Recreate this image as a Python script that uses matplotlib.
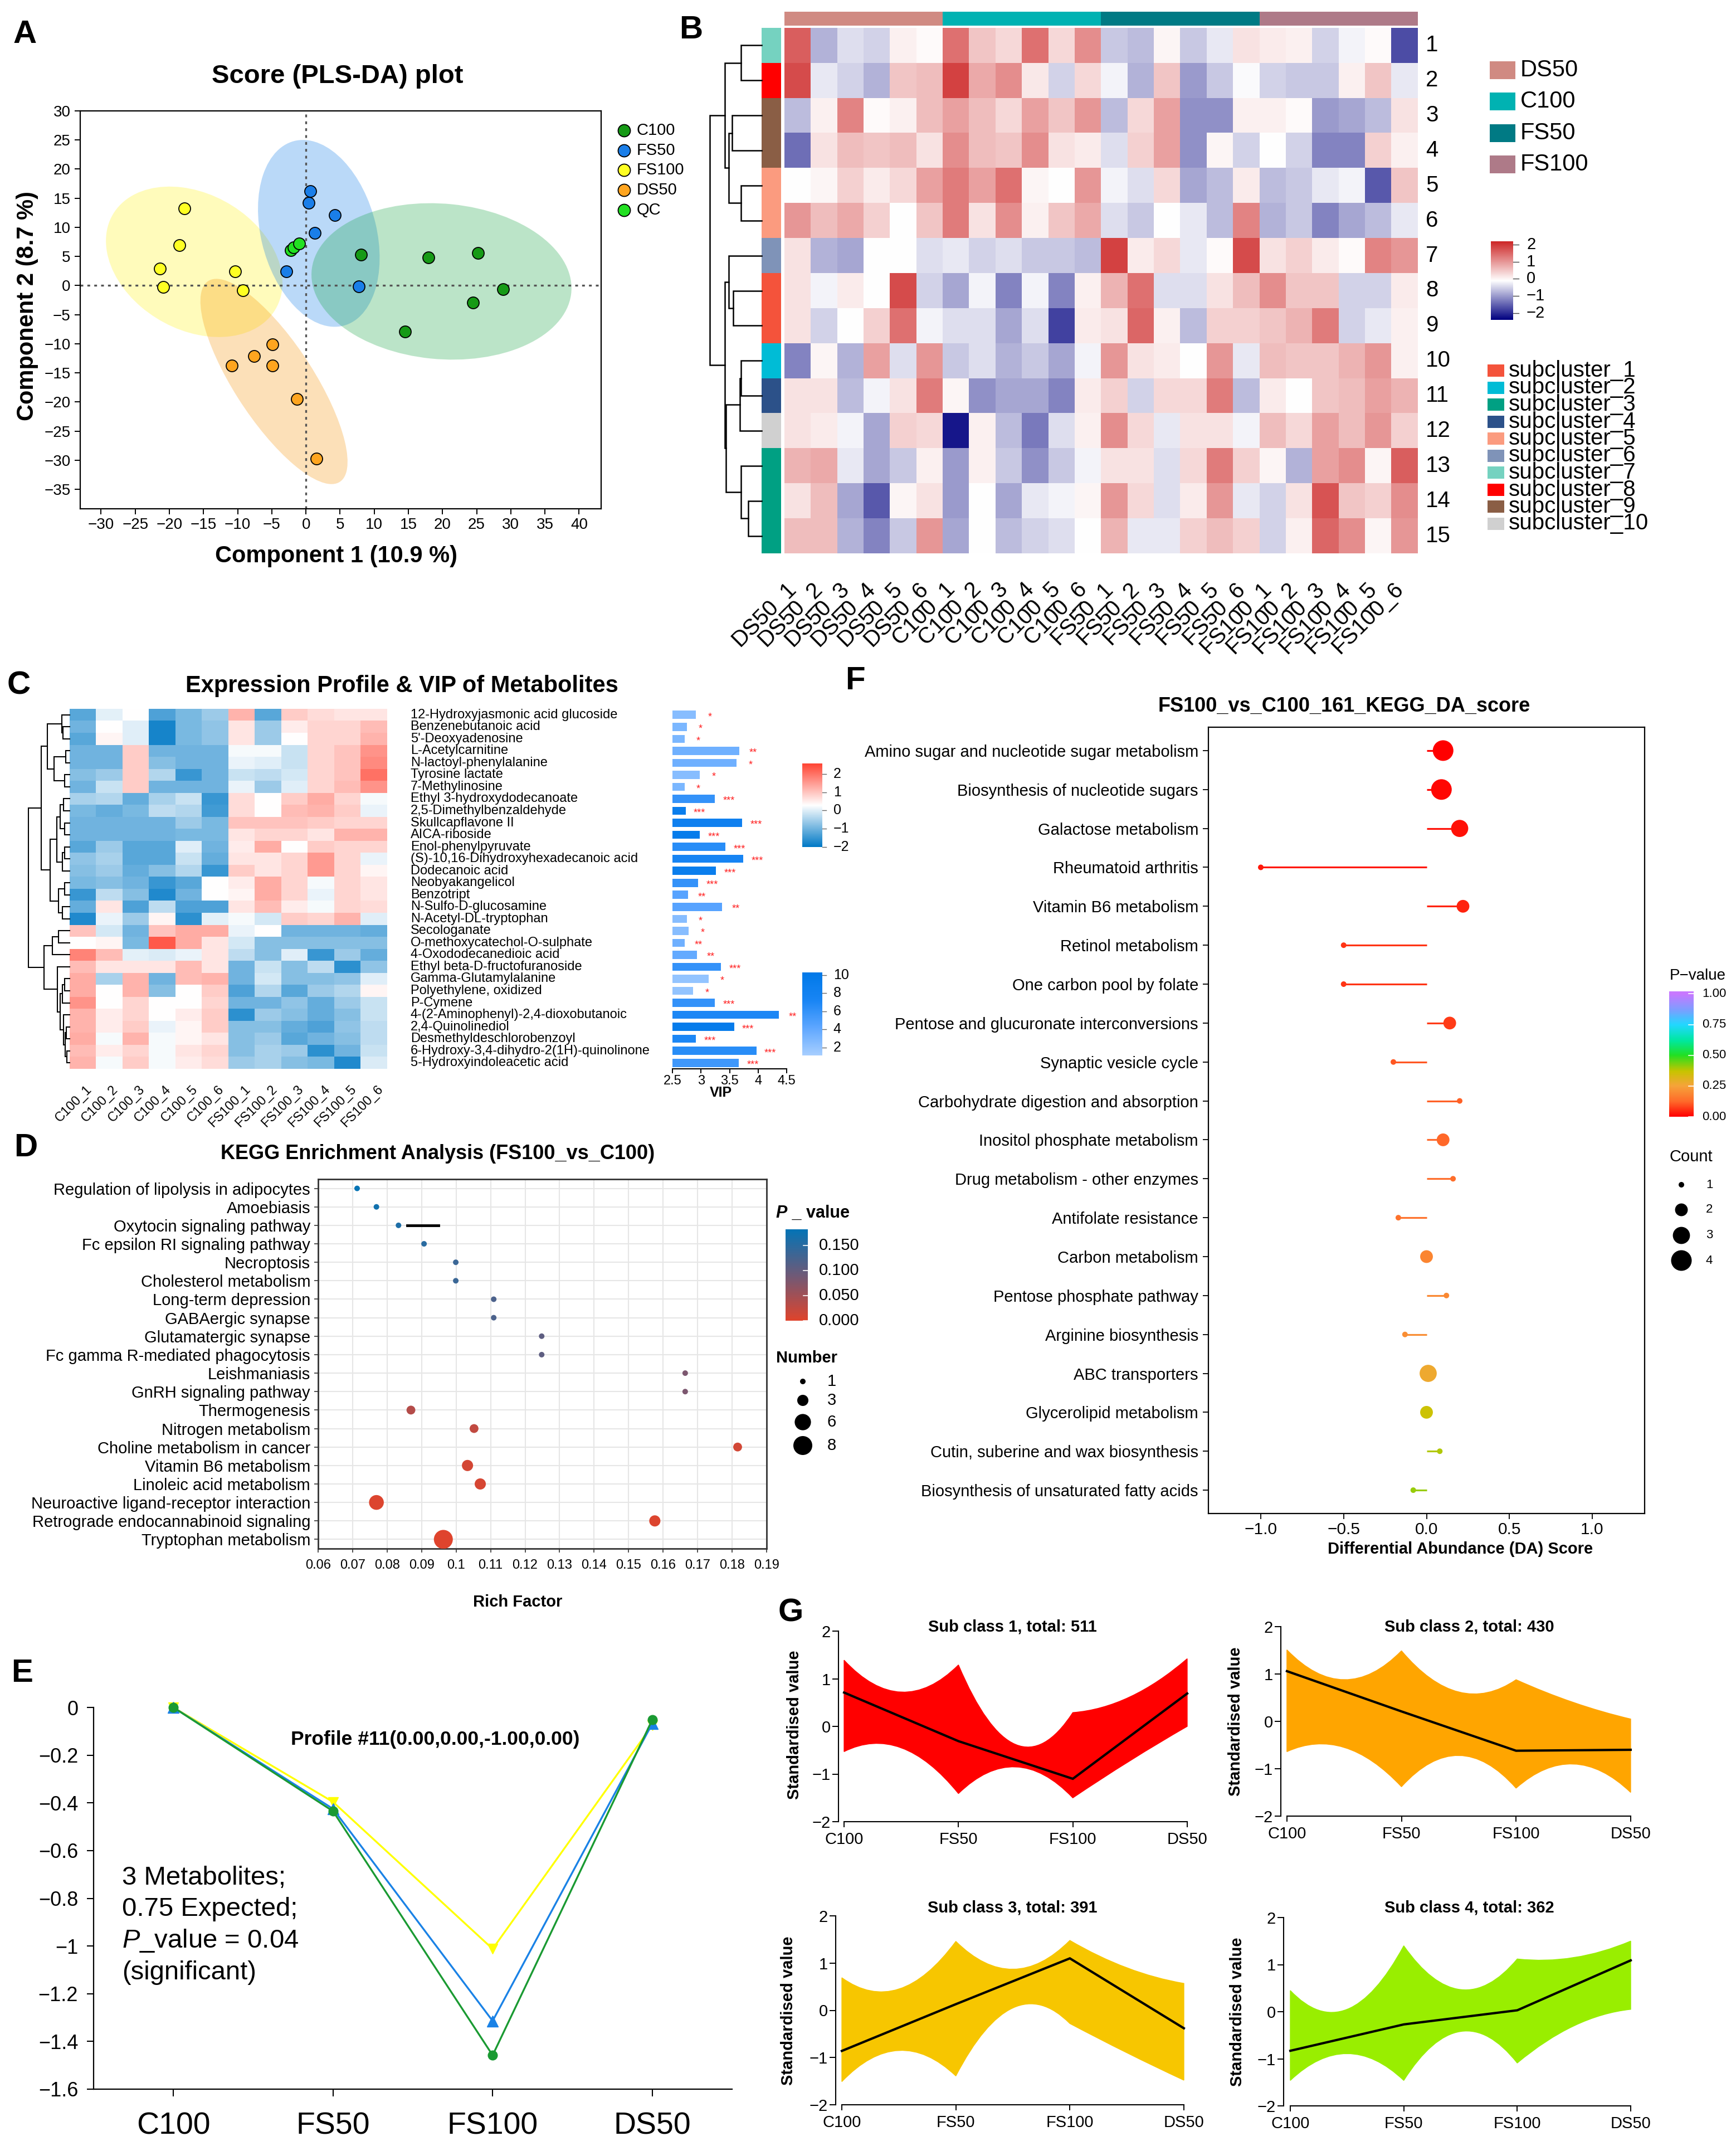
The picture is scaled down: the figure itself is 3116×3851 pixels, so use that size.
import numpy as np
import matplotlib
matplotlib.use('Agg')
import matplotlib.pyplot as plt
from matplotlib.colors import LinearSegmentedColormap, Normalize
from matplotlib.patches import Ellipse, Rectangle, PathPatch
from matplotlib.path import Path
from matplotlib.ticker import FuncFormatter

plt.rcParams['font.family'] = ['Liberation Sans', 'DejaVu Sans']
plt.rcParams['mathtext.fontset'] = 'custom'
plt.rcParams['mathtext.rm'] = 'Liberation Sans'
plt.rcParams['mathtext.it'] = 'Liberation Sans:italic'
plt.rcParams['mathtext.bf'] = 'Liberation Sans:bold'

# ============================ DATA ============================
# ---- A: PLS-DA scores ----
A_groups = ['C100', 'FS50', 'FS100', 'DS50', 'QC']
A_x = {'C100': [8.1, 17.9, 25.2, 28.9, 24.5, 14.5],
       'FS50': [0.6, 0.4, 4.2, 1.3, -2.9, 7.7],
       'FS100': [-17.8, -18.5, -21.4, -20.9, -10.4, -9.2],
       'DS50': [-4.9, -7.6, -10.9, -4.9, -1.3, 1.5],
       'QC': [-2.2, -1.8, -1.0]}
A_y = {'C100': [5.3, 4.8, 5.6, -0.6, -2.9, -7.9],
       'FS50': [16.2, 14.2, 12.1, 9.0, 2.4, -0.1],
       'FS100': [13.3, 6.9, 2.9, -0.2, 2.4, -0.8],
       'DS50': [-10.1, -12.1, -13.7, -13.7, -19.5, -29.7],
       'QC': [6.1, 6.6, 7.2]}

# ---- B: clustered heatmap ----
B_groups = ['DS50', 'C100', 'FS50', 'FS100']
B_samples = [g + '_' + str(i) for g in B_groups for i in range(1, 7)]
B_vals = [
 [1.6,-0.8,-0.4,-0.5,0.05,-0.05,1.4,0.5,0.3,1.4,0.3,1.1,-0.6,-0.7,0.0,-0.6,-0.3,0.2,0.1,0.05,-0.5,-0.2,-0.05,-1.7],
 [1.8,-0.3,-0.5,-0.8,0.5,0.6,1.9,0.8,1.1,0.15,-0.5,0.3,-0.2,-0.8,0.5,-1.0,-0.6,-0.15,-0.5,-0.6,-0.6,0.05,0.5,-0.3],
 [-0.7,0.05,1.2,-0.05,0.05,0.6,0.9,0.6,0.3,0.9,0.5,1.0,-0.7,0.3,0.9,-1.1,-1.1,0.05,0.05,-0.05,-1.0,-0.9,-0.7,0.2],
 [-1.4,0.2,0.6,0.5,0.6,0.2,1.1,0.6,0.5,1.1,0.2,0.1,-0.4,0.4,0.9,-1.1,0.0,-0.5,-0.1,-0.5,-1.2,-1.2,0.4,0.05],
 [-0.1,0.0,0.4,0.1,0.3,0.9,1.3,0.9,1.4,0.0,-0.1,1.0,-0.2,-0.4,0.3,-0.9,-0.7,0.1,-0.7,-0.6,-0.3,-0.2,-1.6,0.5],
 [1.0,0.6,0.8,0.4,-0.1,0.5,1.3,0.2,1.1,0.05,0.5,0.8,-0.4,-0.6,-0.1,-0.3,-0.7,1.2,-0.8,-0.6,-1.2,-0.9,-0.7,-0.3],
 [0.2,-0.8,-0.9,-0.1,-0.1,-0.4,-0.3,-0.5,-0.4,-0.6,-0.6,-0.7,1.9,0.1,0.3,-0.3,-0.05,1.8,0.2,0.4,0.1,-0.05,1.2,1.0],
 [0.2,-0.2,0.1,-0.1,1.8,-0.5,-0.9,-0.2,-1.2,-0.2,-1.2,0.05,0.7,1.4,-0.4,-0.4,0.2,0.6,1.1,0.5,0.5,-0.5,-0.5,0.1],
 [0.2,-0.5,-0.1,0.4,1.4,-0.2,-0.4,-0.4,-0.9,-0.4,-1.8,0.1,0.2,1.5,0.05,-0.7,0.4,0.4,0.5,0.7,1.3,-0.5,-0.3,0.05],
 [-1.2,0.0,-0.8,0.9,-0.4,1.0,-0.6,-0.4,-0.8,-0.6,-0.9,-0.2,1.0,0.2,0.1,-0.1,1.0,-0.3,0.6,0.5,0.5,0.7,1.0,0.05],
 [0.2,0.2,-0.7,-0.2,0.2,1.3,0.0,-1.1,-0.9,-0.9,-1.2,0.1,0.4,-0.5,0.3,0.3,1.3,-0.7,0.1,-0.1,0.5,0.6,0.9,0.7],
 [0.2,0.1,-0.2,-0.9,0.4,0.3,-2.2,0.05,-0.7,-1.3,-0.4,0.05,1.1,0.3,-0.3,0.2,0.2,-0.2,0.6,0.3,0.9,0.6,1.0,0.4],
 [0.7,0.8,-0.3,-0.9,-0.6,0.05,-1.0,0.05,-0.6,-1.1,-0.6,-0.2,0.2,0.2,-0.4,0.3,1.3,0.4,0.0,-0.8,0.9,1.1,0.0,1.6],
 [0.2,0.6,-0.9,-1.6,0.0,0.2,-1.0,-0.1,-0.9,-0.3,-0.2,0.0,1.0,0.3,-0.4,0.1,1.0,-0.3,-0.5,0.2,1.7,0.5,0.4,1.1],
 [0.6,0.6,-0.8,-1.2,-0.6,1.0,-0.9,-0.1,-0.7,-0.5,-0.4,-0.1,0.7,-0.3,-0.3,0.4,0.6,0.4,-0.5,0.05,1.5,1.1,0.0,1.0]]
B_row_cluster = [7, 8, 9, 9, 5, 5, 6, 1, 1, 2, 4, 10, 3, 3, 3]
B_cluster_colors = ['#f4533b', '#00bcd6', '#00a083', '#2c5189', '#fb9b7f',
                    '#7f93b8', '#75d2c0', '#ff0000', '#8a5e45', '#d0d0d0']
B_group_colors = ['#d08a82', '#00b2b2', '#007a84', '#ae7a88']
# dendrogram (left, right, height) - leaves are row indices
B_tree = (((0, 1, 30), ((2, 3, 43), (4, 5, 30), 48), 54),
          ((6, (7, 8, 42), 48), (((9, 10, 30), 11, 32), (12, (13, 14, 20), 30), 52), 54), 76)

# ---- C: expression profile + VIP ----
C_samples = ['C100_' + str(i) for i in range(1, 7)] + ['FS100_' + str(i) for i in range(1, 7)]
C_names = ['12-Hydroxyjasmonic acid glucoside', 'Benzenebutanoic acid', "5'-Deoxyadenosine",
           'L-Acetylcarnitine', 'N-lactoyl-phenylalanine', 'Tyrosine lactate', '7-Methylinosine',
           'Ethyl 3-hydroxydodecanoate', '2,5-Dimethylbenzaldehyde', 'Skullcapflavone II',
           'AICA-riboside', 'Enol-phenylpyruvate', '(S)-10,16-Dihydroxyhexadecanoic acid',
           'Dodecanoic acid', 'Neobyakangelicol', 'Benzotript', 'N-Sulfo-D-glucosamine',
           'N-Acetyl-DL-tryptophan', 'Secologanate', 'O-methoxycatechol-O-sulphate',
           '4-Oxododecanedioic acid', 'Ethyl beta-D-fructofuranoside', 'Gamma-Glutamylalanine',
           'Polyethylene, oxidized', 'P-Cymene', '4-(2-Aminophenyl)-2,4-dioxobutanoic',
           '2,4-Quinolinediol', 'Desmethyldeschlorobenzoyl',
           '6-Hydroxy-3,4-dihydro-2(1H)-quinolinone', '5-Hydroxyindoleacetic acid']
C_vals = [
 [-1.2,0.05,0.3,-1.3,-0.9,-0.6,1.2,-1.2,0.9,0.7,0.6,0.6],
 [-1.0,0.3,0.0,-1.8,-0.9,-0.7,0.6,-0.6,0.5,0.8,0.8,1.1],
 [-1.2,0.4,0.0,-1.8,-0.9,-0.7,0.6,-0.6,0.3,0.8,0.8,1.2],
 [-1.0,-1.0,0.9,-1.0,-1.0,-1.0,0.2,0.2,-0.2,0.8,1.0,1.6],
 [-1.0,-1.0,0.9,-0.8,-1.0,-1.0,0.1,0.0,-0.2,0.8,1.0,1.7],
 [-0.8,-0.6,0.9,-0.4,-1.5,-1.0,-0.2,-0.3,-0.1,0.8,1.0,2.0],
 [-1.0,-0.2,0.9,-1.0,-1.0,-1.0,0.1,-0.6,0.0,0.8,1.1,1.6],
 [-0.5,-0.4,-1.1,-0.5,-0.2,-1.5,0.7,0.3,0.9,1.3,0.8,0.2],
 [-0.9,-1.1,-0.9,-0.3,-0.4,-1.4,0.7,0.3,1.1,1.2,0.9,0.1],
 [-1.0,-1.0,-1.0,-1.0,-0.6,-0.9,1.0,1.0,1.0,0.9,0.8,0.8],
 [-1.0,-1.0,-1.0,-1.0,-0.9,-0.9,0.6,0.8,0.8,0.6,1.2,1.2],
 [-1.2,-0.6,-1.2,-1.2,0.0,-1.0,0.5,1.3,0.3,0.9,0.8,0.8],
 [-0.7,-0.5,-1.2,-1.2,-0.2,-1.1,0.6,0.6,0.8,1.5,0.8,0.1],
 [-0.8,-0.6,-1.1,-0.8,-0.4,-1.5,0.9,0.6,0.8,1.5,0.8,0.4],
 [-0.9,-0.8,-1.0,-1.5,-1.2,0.3,0.5,1.3,0.8,0.2,0.8,0.6],
 [-1.5,-0.3,-0.8,-1.7,-1.0,0.3,0.4,1.3,0.8,0.1,0.8,0.6],
 [-1.1,0.6,-1.3,-0.3,-1.3,-1.3,0.6,1.1,0.5,0.2,0.8,0.7],
 [-1.7,0.1,-0.6,0.4,-1.6,0.05,0.2,-0.1,0.9,0.8,1.2,0.0],
 [1.0,-0.1,-1.0,1.0,1.3,1.3,0.1,0.3,-1.0,-1.0,-1.0,-1.1],
 [0.3,0.4,-0.9,2.3,1.3,0.6,-0.1,-0.8,-0.8,-0.8,-0.8,-0.8],
 [1.8,1.1,0.05,-0.05,0.1,0.6,-0.3,-0.8,0.0,-1.5,-0.6,-1.1],
 [1.1,0.6,0.6,0.6,1.1,0.6,-1.0,-0.2,-0.8,-0.3,-1.6,-0.7],
 [1.3,-0.5,1.2,-1.0,1.1,1.2,-1.0,-0.1,-0.8,-0.8,-0.7,0.0],
 [1.3,0.3,1.2,-0.8,0.3,0.9,-1.3,-0.4,-1.2,-0.6,-0.4,0.4],
 [1.6,0.3,0.8,0.3,0.3,0.8,-1.0,-1.0,-0.7,-1.1,-0.6,-0.2],
 [1.2,0.5,0.8,0.3,0.5,0.9,-1.6,-0.6,-0.8,-1.1,-0.8,-0.2],
 [1.2,0.5,0.9,0.1,0.4,0.9,-0.8,-0.8,-1.1,-1.3,-0.7,-0.3],
 [1.3,0.2,1.2,0.2,0.4,0.6,-0.8,-0.6,-1.2,-1.0,-0.8,-0.3],
 [1.1,0.5,0.8,0.2,0.6,0.8,-0.8,-0.5,-0.6,-1.6,-1.0,-0.2],
 [1.2,0.2,0.9,0.2,0.5,0.7,-0.6,-0.5,-0.8,-0.9,-1.7,-0.05]]
C_vip = [2.91, 2.75, 2.71, 3.67, 3.62, 2.98, 2.71, 3.24, 2.73, 3.72, 2.98, 3.43, 3.74, 3.26, 2.95,
         2.77, 3.37, 2.75, 2.78, 2.71, 2.93, 3.35, 3.13, 2.86, 3.24, 4.36, 3.58, 2.91, 3.97, 3.66]
C_count = [2.5, 3, 3, 3.5, 3.5, 2.5, 3, 6, 9, 8.5, 9.5, 6.5, 7.5, 9, 6,
           4.5, 4.5, 2.5, 2.5, 3.5, 4, 6, 2, 2, 6, 7, 9.5, 7, 6.5, 5.5]
C_stars = ['*', '*', '*', '**', '*', '*', '*', '***', '***', '***', '***', '***', '***', '***', '***',
           '**', '**', '*', '*', '**', '**', '***', '*', '*', '***', '**', '***', '***', '***', '***']
C_tree = ((((0, (1, 2, 13), 15), ((3, 4, 8), (5, 6, 10), 30), 43),
           ((((7, 8, 12), (9, 10, 10), 18), ((11, 12, 10), 13, 14), 25),
            ((14, 15, 10), (16, 17, 14), 22), 38), 55),
          (((18, 19, 22), 20, 33),
           (21, (((22, 23, 10), 24, 14), (25, ((26, 27, 6), (28, 29, 5), 9), 12), 18), 24), 50), 80)

# ---- D: KEGG enrichment ----
D_terms = ['Regulation of lipolysis in adipocytes', 'Amoebiasis', 'Oxytocin signaling pathway',
           'Fc epsilon RI signaling pathway', 'Necroptosis', 'Cholesterol metabolism',
           'Long-term depression', 'GABAergic synapse', 'Glutamatergic synapse',
           'Fc gamma R-mediated phagocytosis', 'Leishmaniasis', 'GnRH signaling pathway',
           'Thermogenesis', 'Nitrogen metabolism', 'Choline metabolism in cancer',
           'Vitamin B6 metabolism', 'Linoleic acid metabolism',
           'Neuroactive ligand-receptor interaction', 'Retrograde endocannabinoid signaling',
           'Tryptophan metabolism']
D_rich = [0.0713, 0.0769, 0.0833, 0.0907, 0.0999, 0.0999, 0.1109, 0.1109, 0.1248, 0.1248,
          0.1664, 0.1664, 0.0869, 0.1052, 0.1816, 0.1033, 0.1070, 0.0769, 0.1576, 0.0963]
D_p = [0.18, 0.17, 0.16, 0.15, 0.135, 0.135, 0.12, 0.12, 0.105, 0.105,
       0.08, 0.08, 0.035, 0.025, 0.012, 0.01, 0.008, 0.004, 0.004, 0.001]
D_number = [1, 1, 1, 1, 1, 1, 1, 1, 1, 1, 1, 1, 2, 2, 2, 3, 3, 5, 3, 8]
D_bar_x = [0.0858, 0.0949]   # stray black bar on the Oxytocin row
D_bar_row = 2
D_legend_numbers = [1, 3, 6, 8]

# ---- E: STEM profile ----
E_groups = ['C100', 'FS50', 'FS100', 'DS50']
E_yellow = [0.0, -0.396, -1.012, -0.075]
E_blue = [0.0, -0.425, -1.314, -0.068]
E_green = [0.0, -0.435, -1.458, -0.052]

# ---- F: DA score ----
F_terms = ['Amino sugar and nucleotide sugar metabolism', 'Biosynthesis of nucleotide sugars',
           'Galactose metabolism', 'Rheumatoid arthritis', 'Vitamin B6 metabolism',
           'Retinol metabolism', 'One carbon pool by folate',
           'Pentose and glucuronate interconversions', 'Synaptic vesicle cycle',
           'Carbohydrate digestion and absorption', 'Inositol phosphate metabolism',
           'Drug metabolism - other enzymes', 'Antifolate resistance', 'Carbon metabolism',
           'Pentose phosphate pathway', 'Arginine biosynthesis', 'ABC transporters',
           'Glycerolipid metabolism', 'Cutin, suberine and wax biosynthesis',
           'Biosynthesis of unsaturated fatty acids']
F_da = [0.1, 0.09, 0.2, -1.0, 0.22, -0.5, -0.5, 0.14, -0.2, 0.2,
        0.1, 0.16, -0.17, 0.0, 0.12, -0.13, 0.01, 0.0, 0.08, -0.08]
F_p = [0.0, 0.01, 0.02, 0.03, 0.04, 0.06, 0.06, 0.07, 0.1, 0.11,
       0.12, 0.13, 0.14, 0.18, 0.19, 0.2, 0.27, 0.36, 0.39, 0.41]
F_count = [4, 4, 3, 1, 2, 1, 1, 2, 1, 1, 2, 1, 1, 2, 1, 1, 3, 2, 1, 1]
F_legend_counts = [1, 2, 3, 4]

# ---- G: sub-class trend bundles ----
# mean profile, plus the envelope of all member lines: its value at each group
# and its value halfway between neighbouring groups
G_groups = ['C100', 'FS50', 'FS100', 'DS50']
G_titles = ['Sub class 1, total: 511', 'Sub class 2, total: 430',
            'Sub class 3, total: 391', 'Sub class 4, total: 362']
G_mean = [[0.71, -0.31, -1.10, 0.69],
          [1.06, 0.21, -0.62, -0.60],
          [-0.86, 0.13, 1.10, -0.38],
          [-0.83, -0.27, 0.03, 1.09]]
G_top = [[1.39, 1.29, 0.29, 1.42],
         [1.51, 1.49, 0.88, 0.05],
         [0.69, 1.46, 1.48, 0.57],
         [0.45, 1.40, 1.12, 1.50]]
G_top_mid = [[0.72, -0.38, 0.62],
             [0.88, 0.62, 0.40],
             [0.45, 0.87, 0.90],
             [0.05, 0.47, 1.15]]
G_bottom = [[-0.53, -1.41, -1.50, 0.00],
            [-0.64, -1.38, -1.41, -1.50],
            [-1.51, -1.39, -0.28, -1.48],
            [-1.46, -1.46, -1.09, 0.05]]
G_bottom_mid = [[-0.45, -0.85, -0.72],
                [-0.55, -0.72, -0.90],
                [-0.85, 0.05, -0.90],
                [-0.89, -0.42, -0.30]]
G_colors = ['#ff0000', '#ffa500', '#f7c600', '#99ee00']

# ============================ FIGURE ============================
W, H = 3116, 3851
DPI = 100
fig = plt.figure(figsize=(W / DPI, H / DPI), dpi=DPI)
fig.patch.set_facecolor('white')


def rect(x0, y0, x1, y1):
    return [x0 / W, 1 - y1 / H, (x1 - x0) / W, (y1 - y0) / H]


MINUS = '\u2212'


def fmt_num(v):
    if abs(v) < 1e-9:
        v = 0
    return ('%g' % v).replace('-', MINUS)


def draw_tree(ax, tree, lw=1.6):
    def rec(node):
        if isinstance(node, int):
            return float(node), 0.0
        l, r, h = node
        yl, hl = rec(l)
        yr, hr = rec(r)
        ax.plot([hl, h, h, hr], [yl, yl, yr, yr], color='black', lw=lw, clip_on=False,
                solid_joinstyle='miter')
        return (yl + yr) / 2.0, h
    rec(tree)


def envelope_path(top, top_mid, bottom, bottom_mid):
    # quadratic curves through the group values and the half-way values
    n = len(top)
    verts = [(1, top[0])]
    codes = [Path.MOVETO]
    for i in range(n - 1):
        c = (4 * top_mid[i] - top[i] - top[i + 1]) / 2.0
        verts += [(i + 1.5, c), (i + 2, top[i + 1])]
        codes += [Path.CURVE3, Path.CURVE3]
    verts.append((n, bottom[n - 1]))
    codes.append(Path.LINETO)
    for i in range(n - 2, -1, -1):
        c = (4 * bottom_mid[i] - bottom[i] - bottom[i + 1]) / 2.0
        verts += [(i + 1.5, c), (i + 1, bottom[i])]
        codes += [Path.CURVE3, Path.CURVE3]
    verts.append((1, top[0]))
    codes.append(Path.CLOSEPOLY)
    return Path(verts, codes)


# ---------------- Panel A ----------------
axA = fig.add_axes(rect(143.5, 199, 1078.6, 912.7))
ell_colors = {'C100': '#0ca13a', 'FS50': '#0a78e6', 'FS100': '#fff20c', 'DS50': '#f59000'}
pt_colors = {'C100': '#169a16', 'FS50': '#1a7ee8', 'FS100': '#ffff22', 'DS50': '#ffa51f', 'QC': '#22e022'}
k95 = np.sqrt(5.991)
for g in ['FS100', 'DS50', 'FS50', 'C100']:
    xs = np.array(A_x[g]); ys = np.array(A_y[g])
    cov = np.cov(xs, ys)
    vals, vecs = np.linalg.eigh(cov)
    order = vals.argsort()[::-1]
    vals = vals[order]; vecs = vecs[:, order]
    ang = np.degrees(np.arctan2(vecs[1, 0], vecs[0, 0]))
    axA.add_patch(Ellipse((xs.mean(), ys.mean()), 2 * k95 * np.sqrt(vals[0]), 2 * k95 * np.sqrt(vals[1]),
                          angle=ang, facecolor=ell_colors[g], alpha=0.28, edgecolor='none', zorder=1))
axA.axvline(0, color='#555555', ls=(0, (1.5, 2.2)), lw=2.4, zorder=2)
axA.axhline(0, color='#555555', ls=(0, (1.5, 2.2)), lw=2.4, zorder=2)
for g in A_groups:
    axA.scatter(A_x[g], A_y[g], s=(0.72 * 21) ** 2, c=pt_colors[g], edgecolors='black',
                linewidths=1.3, zorder=3)
axA.set_xlim(-33.1, 43.2)
axA.set_ylim(-38.3, 30)
axA.set_xticks(range(-30, 41, 5))
axA.set_yticks(range(-35, 31, 5))
axA.tick_params(labelsize=20, length=7, width=1.4, pad=5)
for s in axA.spines.values():
    s.set_linewidth(1.6)

# ---------------- Panel B ----------------
cmapB = LinearSegmentedColormap.from_list('nwf', ['#000080', '#ffffff', '#cd2626'])
normB = Normalize(-2.4, 2.2)
axB = fig.add_axes(rect(1408, 50, 2545, 993))
axB.imshow(np.array(B_vals), cmap=cmapB, norm=normB, aspect='auto', interpolation='nearest')
axB.set_axis_off()
for i in range(len(B_vals)):
    axB.text(23.8, i, str(i + 1), fontsize=29, ha='left', va='center')
for j, lab in enumerate(B_samples):
    axB.text(j - 0.46, 15.2, lab, fontsize=29, rotation=45, rotation_mode='anchor',
             ha='right', va='top')

axBc = fig.add_axes(rect(1408, 21, 2545, 46))
grp_idx = np.repeat(np.arange(4), 6)
axBc.imshow(np.array([[matplotlib.colors.to_rgb(B_group_colors[k]) for k in grp_idx]]),
            aspect='auto', interpolation='nearest')
axBc.set_axis_off()

axBr = fig.add_axes(rect(1367, 50, 1402, 993))
axBr.imshow(np.array([[matplotlib.colors.to_rgb(B_cluster_colors[c - 1])] for c in B_row_cluster]),
            aspect='auto', interpolation='nearest')
axBr.set_axis_off()

axBd = fig.add_axes(rect(1274, 50, 1367, 993))
draw_tree(axBd, B_tree, lw=1.8)
axBd.set_xlim(76, 0)
axBd.set_ylim(14.5, -0.5)
axBd.set_axis_off()

axBcb = fig.add_axes(rect(2676, 433, 2716, 574))
axBcb.imshow(np.linspace(normB.vmax, normB.vmin, 256)[:, None], cmap=cmapB, norm=normB,
             aspect='auto', extent=(0, 1, normB.vmin, normB.vmax))
axBcb.set_xlim(0, 1); axBcb.set_ylim(normB.vmin, normB.vmax)
axBcb.set_axis_off()
for v in [2, 1, 0, -1, -2]:
    axBcb.plot([1.0, 1.25], [v, v], color='#444444', lw=1, clip_on=False)
    axBcb.text(1.6, v, fmt_num(v), fontsize=21, ha='left', va='center')

# ---------------- Panel C ----------------
cmapC = LinearSegmentedColormap.from_list('bwr2', ['#0079c6', '#ffffff', '#ff4433'])
normC = Normalize(-2.0, 2.57)
axC = fig.add_axes(rect(125, 1272, 695, 1918))
axC.imshow(np.array(C_vals), cmap=cmapC, norm=normC, aspect='auto', interpolation='nearest')
axC.set_axis_off()
for i, nm in enumerate(C_names):
    axC.text(12.38, i, nm, fontsize=17, ha='left', va='center')
for j, lab in enumerate(C_samples):
    axC.text(j + 0.1, 30.7, lab, fontsize=17, rotation=45, rotation_mode='anchor',
             ha='right', va='top')
axCd = fig.add_axes(rect(51, 1272, 125, 1918))
draw_tree(axCd, C_tree, lw=1.5)
axCd.set_xlim(80, 0)
axCd.set_ylim(29.5, -0.5)
axCd.set_axis_off()

cmapV = LinearSegmentedColormap.from_list('vip', [(0, '#a8cfff'), (0.35, '#5aa5ff'),
                                                  (0.65, '#1a86f5'), (1.0, '#0079e8')])
normV = Normalize(1.14, 10.3)
axV = fig.add_axes(rect(1207, 1272, 1207 + 2.25 * 102.5, 1918))
axV.barh(range(len(C_vip)), np.array(C_vip) - 2.5, left=2.5, height=0.68,
         color=cmapV(normV(np.array(C_count))))
for i, (v, st) in enumerate(zip(C_vip, C_stars)):
    axV.text(v + 0.245, i + 0.18, st, color='#ff2020', fontsize=13, ha='center', va='center')
axV.set_xlim(2.5, 4.75)
axV.set_ylim(29.5, -0.5)
for s in ['top', 'right', 'left']:
    axV.spines[s].set_visible(False)
axV.spines['bottom'].set_bounds(2.5, 4.5)
axV.spines['bottom'].set_linewidth(1.5)
axV.set_yticks([])
axV.set_xticks([2.5, 3, 3.5, 4, 4.5])
axV.set_xticklabels(['2.5', '3', '3.5', '4', '4.5'])
axV.tick_params(axis='x', labelsize=17, length=6, width=1.4, pad=2)
axV.patch.set_alpha(0)

axCcb = fig.add_axes(rect(1440, 1370, 1476, 1520))
axCcb.imshow(np.linspace(normC.vmax, normC.vmin, 256)[:, None], cmap=cmapC, norm=normC,
             aspect='auto', extent=(0, 1, normC.vmin, normC.vmax))
axCcb.set_xlim(0, 1); axCcb.set_ylim(normC.vmin, normC.vmax); axCcb.set_axis_off()
for v in [2, 1, 0, -1, -2]:
    axCcb.plot([1.0, 1.2], [v, v], color='#666666', lw=1, clip_on=False)
    axCcb.text(1.55, v, fmt_num(v), fontsize=18, ha='left', va='center')

axVcb = fig.add_axes(rect(1440, 1745, 1476, 1894))
axVcb.imshow(np.linspace(normV.vmax, normV.vmin, 256)[:, None], cmap=cmapV, norm=normV,
             aspect='auto', extent=(0, 1, normV.vmin, normV.vmax))
axVcb.set_xlim(0, 1); axVcb.set_ylim(normV.vmin, normV.vmax); axVcb.set_axis_off()
for v in [10, 8, 6, 4, 2]:
    axVcb.plot([1.0, 1.2], [v, v], color='#666666', lw=1, clip_on=False)
    axVcb.text(1.55, v, str(v), fontsize=18, ha='left', va='center')

# ---------------- Panel D ----------------
cmapD = LinearSegmentedColormap.from_list('pd', ['#e0442c', '#6e5a78', '#0474b6'])
normD = Normalize(0, 0.182)


def size_D(n):
    return (100 + (np.asarray(n, dtype=float) - 1) * 150.9) * 0.5184


axD = fig.add_axes(rect(571, 2116, 1376, 2779))
axD.set_axisbelow(True)
axD.grid(color='#e6e6e6', lw=1.5)
axD.scatter(D_rich, range(len(D_rich)), s=size_D(D_number), c=cmapD(normD(np.array(D_p))),
            edgecolors='none', zorder=3)
axD.plot(D_bar_x, [D_bar_row, D_bar_row], color='black', lw=3.5, zorder=3)
axD.set_xlim(0.06, 0.19)
axD.set_ylim(19.5, -0.5)
xt = [round(0.06 + 0.01 * i, 2) for i in range(14)]
axD.set_xticks(xt)
axD.set_xticklabels(['%g' % v for v in xt])
axD.set_yticks(range(len(D_terms)))
axD.set_yticklabels(D_terms)
axD.tick_params(axis='y', labelsize=21, length=5, width=1.2, pad=5, color='#333333')
axD.tick_params(axis='x', labelsize=17, length=5, width=1.2, pad=9, color='#333333')
for s in axD.spines.values():
    s.set_linewidth(2)
    s.set_color('#333333')

axDcb = fig.add_axes(rect(1410, 2206, 1450, 2370))
axDcb.imshow(np.linspace(normD.vmax, normD.vmin, 256)[:, None], cmap=cmapD, norm=normD,
             aspect='auto', extent=(0, 1, normD.vmin, normD.vmax))
axDcb.set_xlim(0, 1); axDcb.set_ylim(normD.vmin, normD.vmax); axDcb.set_axis_off()
for v in [0.15, 0.1, 0.05, 0.0]:
    axDcb.plot([0.8, 1.0], [v, v], color='white', lw=1.2)
    axDcb.text(1.5, v, '%.3f' % v, fontsize=21, ha='left', va='center')

# ---------------- Panel E ----------------
axE = fig.add_axes(rect(168, 3064, 1314, 3749))
xE = np.arange(len(E_groups))
axE.plot(xE, E_yellow, color='#ffff00', lw=2.4, marker='v', ms=13, clip_on=False, zorder=3)
axE.plot(xE, E_blue, color='#1a82e6', lw=2.4, marker='^', ms=14, clip_on=False, zorder=4)
axE.plot(xE, E_green, color='#1a9a32', lw=2.4, marker='o', ms=12, clip_on=False, zorder=5)
axE.set_xlim(-0.5, 3.5)
axE.set_ylim(-1.6, 0)
axE.spines['top'].set_visible(False)
axE.spines['right'].set_visible(False)
for s in ['left', 'bottom']:
    axE.spines[s].set_linewidth(1.6)
axE.set_yticks([0, -0.2, -0.4, -0.6, -0.8, -1, -1.2, -1.4, -1.6])
axE.yaxis.set_major_formatter(FuncFormatter(lambda v, p: fmt_num(round(v, 2))))
axE.set_xticks(xE)
axE.set_xticklabels(E_groups)
axE.tick_params(axis='y', labelsize=26, length=9, width=1.5, pad=11)
axE.tick_params(axis='x', labelsize=40, length=9, width=1.5, pad=20)

# ---------------- Panel F ----------------
cmapF = LinearSegmentedColormap.from_list('pf', [(0, '#ff0000'), (0.12, '#ff6a2a'), (0.25, '#f6a43a'),
                                                 (0.37, '#c8c400'), (0.5, '#22e022'), (0.62, '#00e8a0'),
                                                 (0.75, '#22d8ff'), (0.87, '#7aa0ff'), (1.0, '#c878ff')])
normF = Normalize(0, 1)


def size_F(n):
    return (100 + (np.asarray(n, dtype=float) - 1) * 423.0) * 0.5184


axF = fig.add_axes(rect(2169, 1305, 2952, 2716))
colF = cmapF(normF(np.array(F_p)))
yF = np.arange(len(F_terms))
axF.hlines(yF, 0, F_da, colors=colF, lw=2.3, zorder=2)
axF.scatter(F_da, yF, s=size_F(F_count), c=colF, edgecolors='none', zorder=3)
axF.set_xlim(-1.316, 1.316)
axF.set_ylim(19.6, -0.6)
axF.set_xticks([-1, -0.5, 0, 0.5, 1])
axF.set_xticklabels([MINUS + '1.0', MINUS + '0.5', '0.0', '0.5', '1.0'])
axF.set_yticks(yF)
axF.set_yticklabels(F_terms)
axF.tick_params(axis='y', labelsize=21, length=7, width=1.3, pad=6)
axF.tick_params(axis='x', labelsize=21.5, length=7, width=1.3, pad=4)
for s in axF.spines.values():
    s.set_linewidth(1.6)

axFcb = fig.add_axes(rect(2996, 1779, 3040, 2004))
axFcb.imshow(np.linspace(1.02, 0, 256)[:, None], cmap=cmapF, norm=normF,
             aspect='auto', extent=(0, 1, 0, 1.02))
axFcb.set_xlim(0, 1); axFcb.set_ylim(0, 1.02); axFcb.set_axis_off()
for v in [1.0, 0.75, 0.5, 0.25, 0.0]:
    axFcb.plot([0.8, 1.0], [v, v], color='white', lw=1.2)
    axFcb.text(1.35, v, '%.2f' % v, fontsize=16, ha='left', va='center')

# ---------------- Panel G ----------------
G_rects = [(1505, 2927, 2141, 3269), (2299, 2919, 2937, 3259),
           (1500, 3438, 2135, 3777), (2304, 3441, 2937, 3779)]
G_xlims = [(0.951, 4.049), (0.947, 4.049), (0.946, 4.049), (0.941, 4.049)]
for k in range(4):
    ax = fig.add_axes(rect(*G_rects[k]))
    ax.add_patch(PathPatch(envelope_path(G_top[k], G_top_mid[k], G_bottom[k], G_bottom_mid[k]),
                           facecolor=G_colors[k], edgecolor=G_colors[k], lw=1.0))
    ax.plot([1, 2, 3, 4], G_mean[k], color='black', lw=3.0, solid_joinstyle='miter')
    ax.set_xlim(*G_xlims[k])
    ax.set_ylim(-2, 2)
    ax.spines['top'].set_visible(False)
    ax.spines['right'].set_visible(False)
    ax.spines['left'].set_bounds(-2, 2)
    ax.spines['bottom'].set_bounds(1, 4)
    for s in ['left', 'bottom']:
        ax.spines[s].set_linewidth(1.5)
    ax.set_xticks([1, 2, 3, 4])
    ax.set_xticklabels(G_groups)
    ax.set_yticks([-2, -1, 0, 1, 2])
    ax.set_yticklabels([fmt_num(v) for v in [-2, -1, 0, 1, 2]])
    ax.tick_params(axis='y', labelsize=21, length=8, width=1.4, pad=2)
    ax.tick_params(axis='x', labelsize=21, length=7, width=1.4, pad=6)
    ax.patch.set_alpha(0)

# ---------------- overlay: titles, legends, labels ----------------
ov = fig.add_axes([0, 0, 1, 1], zorder=10)
ov.set_xlim(0, W)
ov.set_ylim(H, 0)
ov.axis('off')
ov.patch.set_visible(False)

for lab, x, y in [('A', 45, 62), ('B', 1240, 54), ('C', 34, 1231), ('D', 46, 2060),
                  ('E', 40, 3003), ('F', 1535, 1222), ('G', 1419, 2894)]:
    ov.text(x, y, lab, fontsize=42, fontweight='bold', ha='center', va='center')

# A texts
ov.text(606, 137, 'Score (PLS-DA) plot', fontsize=34, fontweight='bold', ha='center', va='center')
ov.text(604, 998, 'Component 1 (10.9 %)', fontsize=30, fontweight='bold', ha='center', va='center')
ov.text(49, 549, 'Component 2 (8.7 %)', fontsize=30, fontweight='bold', ha='center', va='center',
        rotation=90)
for i, g in enumerate(A_groups):
    yy = 234 + i * 35.7
    ov.scatter([1120], [yy], s=(0.72 * 22) ** 2, c=pt_colors[g], edgecolors='black', linewidths=1.3)
    ov.text(1143, yy, g, fontsize=21, ha='left', va='center')

# B legends
for i, g in enumerate(B_groups):
    yy = 126 + i * 56.3
    ov.add_patch(Rectangle((2674, yy - 16), 46, 32, facecolor=B_group_colors[i], edgecolor='none'))
    ov.text(2729, yy, g, fontsize=30, ha='left', va='center')
for i in range(10):
    yy = 665 + i * 30.5
    ov.add_patch(Rectangle((2670, yy - 11), 30, 22, facecolor=B_cluster_colors[i], edgecolor='none'))
    ov.text(2708, yy, 'subcluster_' + str(i + 1), fontsize=29, ha='left', va='center')

# C texts
ov.text(721, 1231, 'Expression Profile & VIP of Metabolites', fontsize=30, fontweight='bold',
        ha='center', va='center')
ov.text(1294, 1961, 'VIP', fontsize=18, fontweight='bold', ha='center', va='center')

# D texts
ov.text(786, 2070, 'KEGG Enrichment Analysis (FS100_vs_C100)', fontsize=26, fontweight='bold',
        ha='center', va='center')
ov.text(929, 2875, 'Rich Factor', fontsize=21, fontweight='bold', ha='center', va='center')
ov.text(1392, 2177, 'P', fontsize=22, fontweight='bold', fontstyle='italic', ha='left', va='center')
ov.text(1413, 2177, ' _ value', fontsize=22, fontweight='bold', ha='left', va='center')
ov.text(1393, 2437, 'Number', fontsize=21, fontweight='bold', ha='left', va='center')
for i, n in enumerate(D_legend_numbers):
    yy = [2479, 2513, 2552, 2594][i]
    ov.scatter([1441], [yy], s=size_D(n), c='black', edgecolors='none')
    ov.text(1485, yy, str(n), fontsize=21, ha='left', va='center')

# E texts
ov.text(781, 3121, 'Profile #11(0.00,0.00,-1.00,0.00)', fontsize=25.5, fontweight='bold',
        ha='center', va='center')
for i, line in enumerate(['3 Metabolites;', '0.75 Expected;', r'$\it{P}$_value = 0.04', '(significant)']):
    ov.text(219, 3370 + i * 56.5, line, fontsize=34, ha='left', va='center')

# F texts
ov.text(2413, 1267, 'FS100_vs_C100_161_KEGG_DA_score', fontsize=26, fontweight='bold',
        ha='center', va='center')
ov.text(2621, 2780, 'Differential Abundance (DA) Score', fontsize=21, fontweight='bold',
        ha='center', va='center')
ov.text(2997, 1751, 'P' + MINUS + 'value', fontsize=20, ha='left', va='center')
ov.text(2997, 2076, 'Count', fontsize=21, ha='left', va='center')
for i, n in enumerate(F_legend_counts):
    yy = [2126, 2171, 2217, 2262][i]
    ov.scatter([3018], [yy], s=size_F(n), c='black', edgecolors='none')
    ov.text(3062, yy, str(n), fontsize=16, ha='left', va='center')

# G texts
for k, (tx, ty, lx, ly) in enumerate([(1817, 2919, 1426, 3095), (2637, 2919, 2218, 3089),
                                       (1817, 3423, 1415, 3608), (2637, 3423, 2221, 3610)]):
    ov.text(tx, ty, G_titles[k], fontsize=21, fontweight='bold', ha='center', va='center')
    ov.text(lx, ly, 'Standardised value', fontsize=21, fontweight='bold', ha='center',
            va='center', rotation=90)

fig.savefig('out.png', dpi=DPI, facecolor='white')
